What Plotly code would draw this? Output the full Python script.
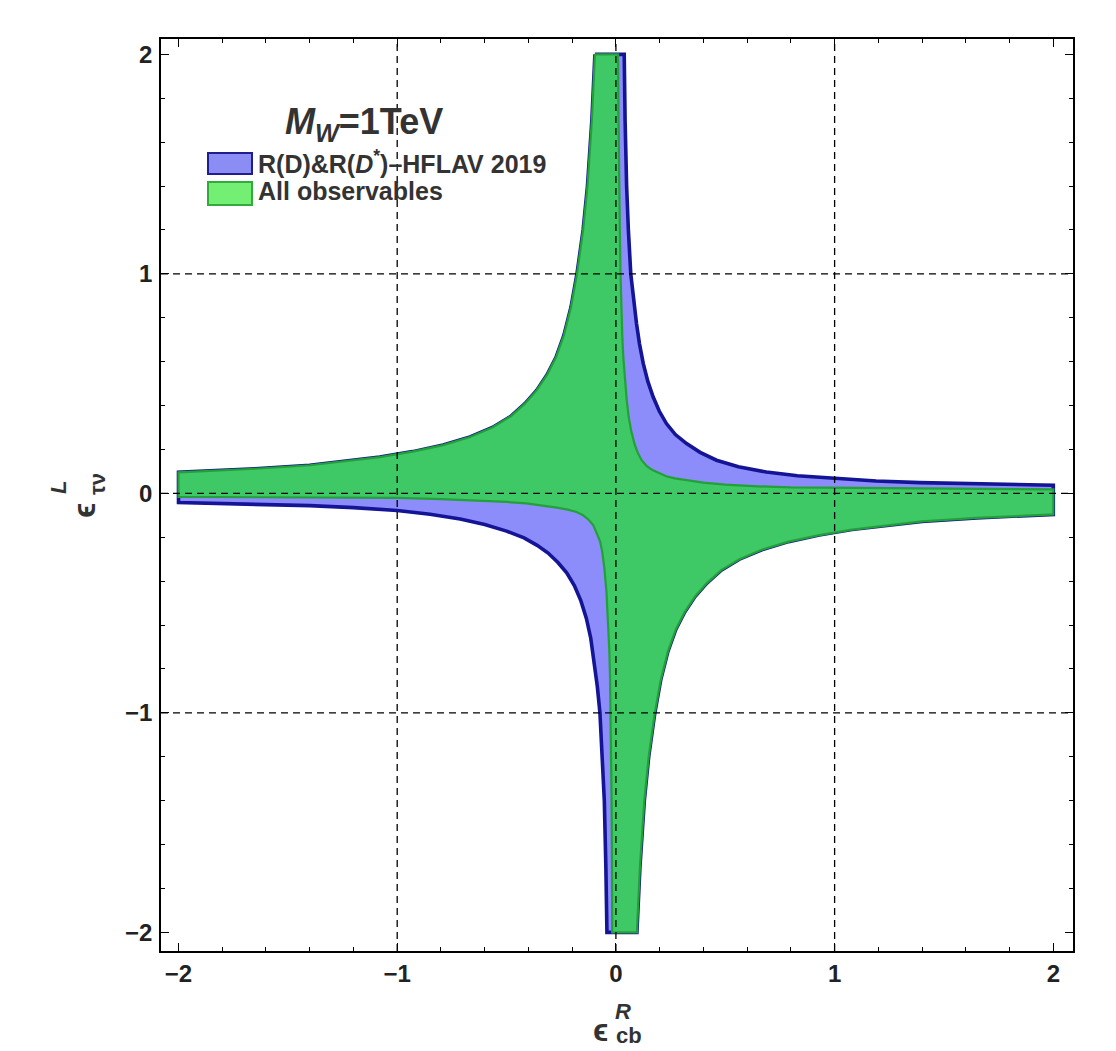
import plotly.graph_objects as go

# ---------------- data ----------------
x_ticks = [-2, -1, 0, 1, 2]
x_tick_labels = ["−2", "−1", "0", "1", "2"]
y_ticks = [-2, -1, 0, 1, 2]
y_tick_labels = ["−2", "−1", "0", "1", "2"]
grid_values = [-1, 0, 1]

# upper-left boundary (shared by both regions), from top of arm to left end
ul_x = [-0.096, -0.110, -0.130, -0.150, -0.178, -0.205, -0.238, -0.274, -0.315, -0.362, -0.415,
        -0.482, -0.565, -0.667, -0.790, -0.930, -1.080, -1.240, -1.400, -1.650, -2.000]
ul_y = [2.000, 1.700, 1.400, 1.200, 1.000, 0.850, 0.720, 0.620, 0.540, 0.470, 0.410,
        0.350, 0.300, 0.257, 0.220, 0.190, 0.165, 0.145, 0.128, 0.112, 0.096]

# lower-right boundary (shared by both regions), from bottom of arm to right end
lr_x = [0.096, 0.110, 0.130, 0.150, 0.178, 0.205, 0.238, 0.274, 0.315, 0.362, 0.415,
        0.482, 0.565, 0.667, 0.790, 0.930, 1.080, 1.240, 1.400, 1.650, 2.000]
lr_y = [-2.000, -1.700, -1.400, -1.200, -1.000, -0.850, -0.720, -0.620, -0.540, -0.470, -0.410,
        -0.350, -0.300, -0.257, -0.220, -0.190, -0.165, -0.145, -0.128, -0.112, -0.096]

# R(D)&R(D*) region: upper-right outer boundary (top arm -> right arm)
ur_blue_x = [0.038, 0.042, 0.049, 0.057, 0.068, 0.080, 0.094, 0.108, 0.125, 0.146, 0.170, 0.198,
             0.231, 0.272, 0.323, 0.385, 0.460, 0.560, 0.688, 0.830, 1.000, 1.190, 1.390, 1.700, 2.000]
ur_blue_y = [2.000, 1.700, 1.400, 1.200, 1.000, 0.880, 0.775, 0.680, 0.592, 0.510, 0.440, 0.375,
             0.318, 0.268, 0.227, 0.187, 0.151, 0.121, 0.097, 0.080, 0.067, 0.056, 0.049, 0.042, 0.037]
# R(D)&R(D*) region: lower-left outer boundary (left arm -> bottom arm)
ll_blue_x = [-2.000, -1.700, -1.400, -1.200, -1.000, -0.850, -0.712, -0.600, -0.500, -0.420, -0.360,
             -0.310, -0.265, -0.225, -0.190, -0.160, -0.135, -0.115, -0.100, -0.085, -0.073, -0.062,
             -0.053, -0.046, -0.041]
ll_blue_y = [-0.042, -0.047, -0.056, -0.065, -0.078, -0.095, -0.117, -0.142, -0.172, -0.203, -0.237,
             -0.272, -0.315, -0.362, -0.420, -0.490, -0.570, -0.660, -0.760, -0.880, -1.000, -1.200,
             -1.400, -1.700, -2.000]

# All observables region: upper-right boundary (top arm -> right arm)
ur_green_x = [0.010, 0.012, 0.015, 0.018, 0.021, 0.025, 0.029, 0.034, 0.040, 0.049, 0.058, 0.070,
              0.085, 0.100, 0.117, 0.140, 0.165, 0.190, 0.230, 0.270, 0.323, 0.400, 0.500, 0.650,
              0.800, 1.000, 1.400, 2.000]
ur_green_y = [2.000, 1.700, 1.400, 1.200, 1.000, 0.840, 0.720, 0.620, 0.530, 0.430, 0.350, 0.285,
              0.225, 0.185, 0.152, 0.125, 0.107, 0.094, 0.078, 0.068, 0.059, 0.049, 0.040, 0.032,
              0.027, 0.024, 0.021, 0.018]
# All observables region: lower-left boundary (left arm -> bottom arm)
ll_green_x = [-2.000, -1.600, -1.300, -1.000, -0.800, -0.636, -0.500, -0.410, -0.332, -0.270, -0.220,
              -0.180, -0.150, -0.125, -0.103, -0.085, -0.072, -0.062, -0.053, -0.043, -0.036, -0.030,
              -0.027, -0.023, -0.020, -0.018, -0.017]
ll_green_y = [-0.016, -0.018, -0.019, -0.021, -0.026, -0.032, -0.039, -0.046, -0.055, -0.065, -0.074,
              -0.085, -0.100, -0.120, -0.146, -0.185, -0.220, -0.270, -0.340, -0.450, -0.570, -0.720,
              -0.830, -1.050, -1.380, -1.700, -2.000]

series_names = ["R(D)&amp;R(<i>D</i><sup>*</sup>)–HFLAV 2019", "All observables"]

# ---------------- styling / layout ----------------
OFF = 8                      # page body margin of the html page
W, H = 1116 - OFF, 1051 - OFF
L, R, T, B = 161 - OFF, 43, 39 - OFF, 100
PW, PH = W - L - R, H - T - B
FONT = "Liberation Sans, Arial, sans-serif"

def pxx(p):                  # page pixel -> paper x
    return (p - OFF - L) / PW

def pxy(p):                  # page pixel -> paper y
    return (T + PH - (p - OFF)) / PH

blue_fill = "rgb(140,140,250)"
blue_line = "rgb(20,20,150)"
green_fill = "rgb(62,200,102)"
green_line = "rgb(35,160,55)"

blue_x = ul_x + ll_blue_x + lr_x + ur_blue_x[::-1] + ul_x[:1]
blue_y = ul_y + ll_blue_y + lr_y + ur_blue_y[::-1] + ul_y[:1]
green_x = ul_x + ll_green_x + lr_x + ur_green_x[::-1] + ul_x[:1]
green_y = ul_y + ll_green_y + lr_y + ur_green_y[::-1] + ul_y[:1]

fig = go.Figure()
fig.add_trace(go.Scatter(x=blue_x, y=blue_y, mode="lines", fill="toself",
                         fillcolor=blue_fill,
                         line=dict(color=blue_line, width=3.6, shape="linear"),
                         showlegend=False, hoverinfo="skip"))
fig.add_trace(go.Scatter(x=green_x, y=green_y, mode="lines", fill="toself",
                         fillcolor=green_fill,
                         line=dict(color=green_line, width=2.2, shape="linear"),
                         showlegend=False, hoverinfo="skip"))

shapes = []
for g in grid_values:
    shapes.append(dict(type="line", xref="x", yref="paper", x0=g, x1=g, y0=0, y1=1,
                       line=dict(color="black", width=1.3, dash="7px,5px"), layer="above"))
    shapes.append(dict(type="line", xref="paper", yref="y", x0=0, x1=1, y0=g, y1=g,
                       line=dict(color="black", width=1.3, dash="7px,5px"), layer="above"))

# legend swatches
shapes.append(dict(type="rect", xref="paper", yref="paper",
                   x0=pxx(208), x1=pxx(252), y0=pxy(174), y1=pxy(153),
                   fillcolor="rgb(140,140,245)", line=dict(color="rgb(30,30,140)", width=2)))
shapes.append(dict(type="rect", xref="paper", yref="paper",
                   x0=pxx(208), x1=pxx(252), y0=pxy(205), y1=pxy(182),
                   fillcolor="rgb(115,240,115)", line=dict(color="rgb(50,170,60)", width=2)))

txt = "#333333"
def ann(text, x, y, size, angle=0, anchor="center"):
    return dict(text=text, x=pxx(x), y=pxy(y), xref="paper", yref="paper", textangle=angle,
                xanchor=anchor, yanchor="middle", showarrow=False,
                font=dict(family=FONT, size=size, color=txt))

annotations = [
    ann(f"<b>{series_names[0]}</b>", 256, 162, 25, anchor="left"),
    ann(f"<b>{series_names[1]}</b>", 256, 191, 25, anchor="left"),
    ann("<b><i>M</i><sub><i>W</i></sub>=1TeV</b>", 283, 124, 36, anchor="left"),
    # x-axis title
    ann("<b>ϵ</b>", 600, 1030, 32),
    ann("<b><i>R</i></b>", 623, 1011, 22),
    ann("<b>cb</b>", 629, 1035, 22),
    # y-axis title
    ann("<b>ϵ</b>", 84, 511, 32, angle=-90),
    ann("<b><i>L</i></b>", 58, 488, 22, angle=-90),
    ann("<b>τν</b>", 97, 484, 22, angle=-90),
]

axis_common = dict(
    ticks="inside", ticklen=8, tickwidth=1.3, tickcolor="black",
    showline=True, linecolor="black", linewidth=1.5, mirror="ticks",
    showgrid=False, zeroline=False, layer="above traces",
    tickfont=dict(family=FONT, size=24, color="#222222", weight="bold"),
    minor=dict(dtick=0.2, tick0=0, ticks="inside", ticklen=4, tickcolor="black",
               tickwidth=1, showgrid=False),
)

fig.update_layout(
    width=W, height=H,
    margin=dict(l=L, r=R, t=T, b=B),
    paper_bgcolor="white", plot_bgcolor="white",
    xaxis=dict(range=[-2.08, 2.09], tickvals=x_ticks, ticktext=x_tick_labels,
               ticklabelstandoff=0, **axis_common),
    yaxis=dict(range=[-2.085, 2.07], tickvals=y_ticks, ticktext=y_tick_labels,
               ticklabelstandoff=2, **axis_common),
    shapes=shapes, annotations=annotations,
    showlegend=False,
)

fig.write_html("out.html")
